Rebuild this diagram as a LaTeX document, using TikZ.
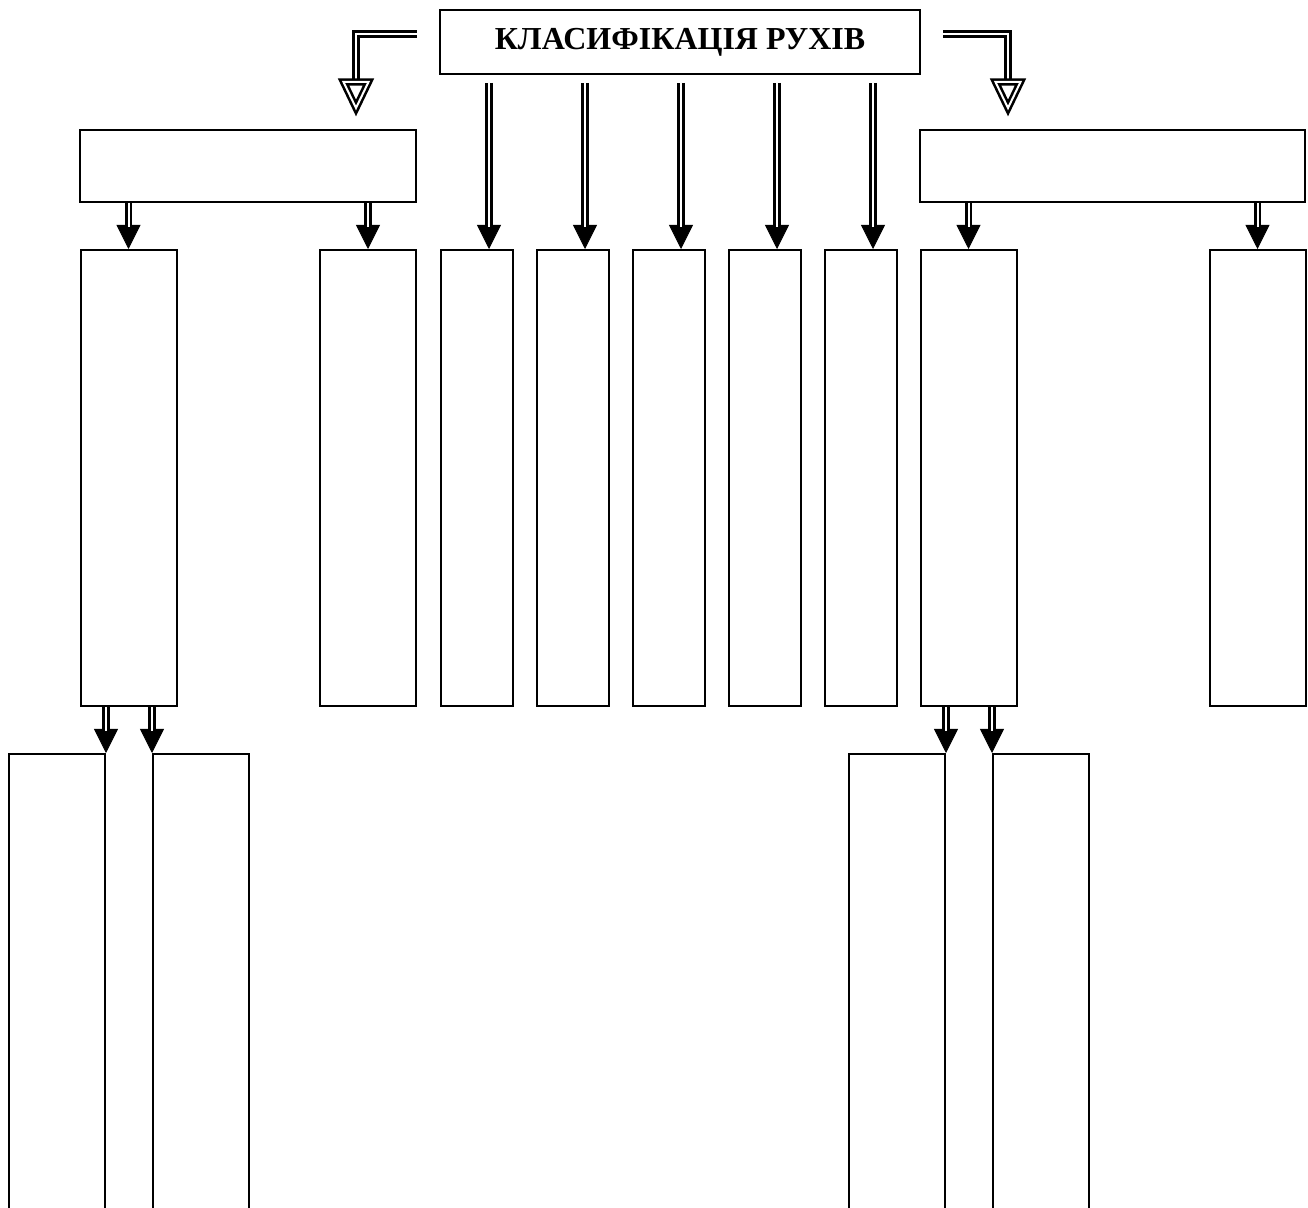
\documentclass[tikz,border=0pt]{standalone}
\usepackage{fontspec}
\setmainfont{Liberation Serif}
\usetikzlibrary{arrows.meta,calc}

\tikzset{
  box/.style={draw, line width=1pt, inner sep=0pt, fill=white},
  wide/.style={box, minimum height=36pt},
  tall/.style={box, minimum width=48pt, minimum height=228pt},
  narrow/.style={box, minimum width=36pt, minimum height=228pt},
  low/.style={box, minimum width=48pt, minimum height=250pt},
  dbl/.style={double, double distance=1pt, line width=1.3pt},
  head/.style={-{Triangle[length=12pt,width=12pt]}, line width=0.4pt},
}
% double shaft with a solid head
\newcommand\darr[2]{%
  \draw[head] #1 -- #2;
  \draw[dbl, shorten >=11pt] #1 -- #2;}

\begin{document}
\begin{tikzpicture}[x=0.5pt, y=-0.5pt]
  \useasboundingbox (0,0) rectangle (1308,1208);
  \clip (0,0) rectangle (1308,1208);
  % Title
  \node[box, minimum width=240pt, minimum height=32pt,
        font=\bfseries\fontsize{16}{18}\selectfont] (title) at (680,42) {КЛАСИФІКАЦІЯ РУХІВ};
  % Second level
  \node[wide, minimum width=168pt] (mleft) at (248,166) {};
  \node[wide, minimum width=192.5pt] (mright) at (1112.5,166) {};
  % Third level
  \node[tall] (l1) at (128.5,478) {};
  \node[tall] (l2) at (368,478) {};
  \node[narrow] (c1) at (477,478) {};
  \node[narrow] (c2) at (573,478) {};
  \node[narrow] (c3) at (669,478) {};
  \node[narrow] (c4) at (765,478) {};
  \node[narrow] (c5) at (861,478) {};
  \node[tall] (r1) at (968.5,478) {};
  \node[tall] (r2) at (1257.5,478) {};
  % Fourth level (runs past the page)
  \node[low] (ll1) at (57,1004) {};
  \node[low] (ll2) at (201,1004) {};
  \node[low] (rr1) at (897,1004) {};
  \node[low] (rr2) at (1041,1004) {};

  % Bent arrows from the title
  \coordinate (tipL) at (356,116);
  \coordinate (tipR) at (1008,116);
  \draw[dbl] ($(title.west)+(-22,-8)$) -| ($(tipL)+(0,-30)$);
  \draw[dbl] ($(title.east)+(22,-8)$) -| ($(tipR)+(0,-30)$);
  \draw[dbl, fill=white] ($(tipL)+(-12.5,-34)$) -- ($(tipL)+(12.5,-34)$) -- ($(tipL)+(0,-8)$) -- cycle;
  \draw[dbl, fill=white] ($(tipR)+(-12.5,-34)$) -- ($(tipR)+(12.5,-34)$) -- ($(tipR)+(0,-8)$) -- cycle;

  % Straight arrows from the title
  \foreach \i in {1,...,5}
    \darr{($(c\i.north |- title.south)+(12,8)$)}{($(c\i.north)+(12,0)$)};

  % From the second level
  \darr{(l1.north |- mleft.south)}{(l1.north)}
  \darr{(l2.north |- mleft.south)}{(l2.north)}
  \darr{(r1.north |- mright.south)}{(r1.north)}
  \darr{(r2.north |- mright.south)}{(r2.north)}

  % From the third level
  \darr{(ll1.north east |- l1.south)}{(ll1.north east)}
  \darr{(ll2.north west |- l1.south)}{(ll2.north west)}
  \darr{(rr1.north east |- r1.south)}{(rr1.north east)}
  \darr{(rr2.north west |- r1.south)}{(rr2.north west)}
\end{tikzpicture}
\end{document}
